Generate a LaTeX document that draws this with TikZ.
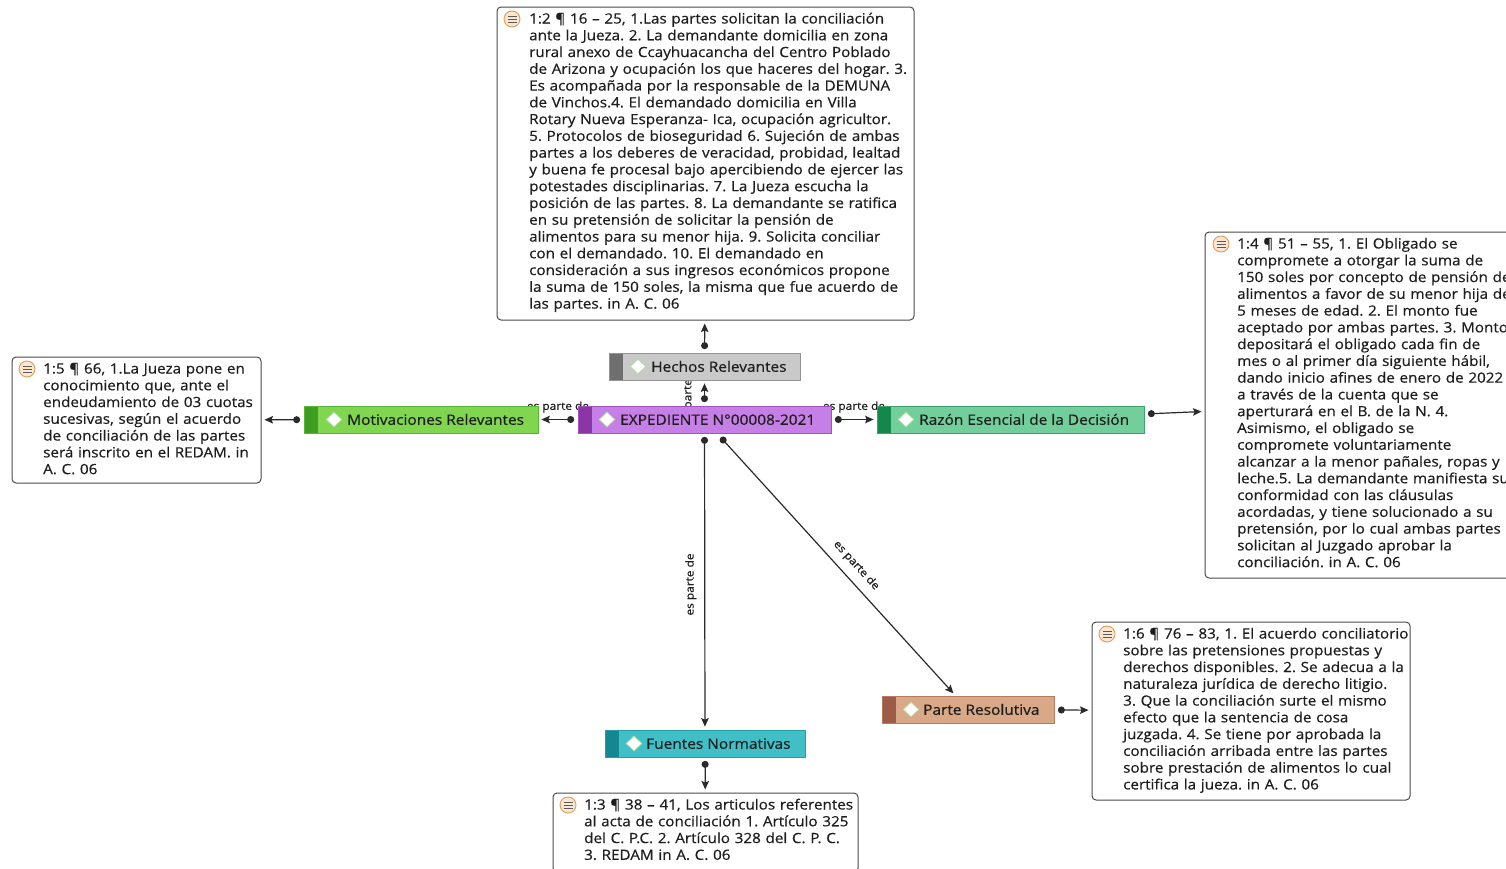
\documentclass[tikz,border=0pt]{standalone}
\usepackage{fontspec}
\setmainfont{Open Sans}[FakeStretch=1.08,FakeBold=0.5]
\usetikzlibrary{arrows.meta,shapes.geometric,backgrounds}
\frenchspacing
\definecolor{ink}{HTML}{1E1E1E}
\definecolor{lnk}{HTML}{2A2A2A}
\definecolor{qedge}{HTML}{4A4A4A}
\definecolor{icedge}{HTML}{E59A58}
\definecolor{icfill}{HTML}{FCE7D2}
\definecolor{icline}{HTML}{5A5A5A}
\definecolor{diaedge}{HTML}{B5DDA5}
\definecolor{hechF}{HTML}{C9C9C9}\definecolor{hechD}{HTML}{6F6F6F}
\definecolor{expeF}{HTML}{C57FE6}\definecolor{expeD}{HTML}{8C35A6}
\definecolor{motiF}{HTML}{80D64E}\definecolor{motiD}{HTML}{3E9E22}
\definecolor{razoF}{HTML}{72CF9C}\definecolor{razoD}{HTML}{14874B}
\definecolor{partF}{HTML}{D9A886}\definecolor{partD}{HTML}{9E5B47}
\definecolor{fuenF}{HTML}{41BFC7}\definecolor{fuenD}{HTML}{138890}
\tikzset{
  codebox/.style 2 args={draw=#2!60!#1, line width=0.7pt, fill=#1, minimum height=27pt, inner sep=0pt,
    path picture={\fill[#2] (path picture bounding box.north west) rectangle ([xshift=14pt]path picture bounding box.south west);}},
  lbl/.style={font=\fontsize{14.3}{16}\selectfont, text=ink, inner sep=0pt, anchor=base west},
  dia/.style={diamond, draw=diaedge, fill=white, line width=0.9pt, minimum width=16pt, minimum height=15pt, inner sep=0pt},
  qbox/.style={draw=qedge, line width=1pt, rounded corners=4pt, fill=white, inner sep=0pt},
  qtext/.style={font=\fontsize{14.1}{16.77}\selectfont, text=ink, inner sep=0pt, anchor=base west, text width=520pt, align=left},
  qicon/.style={circle, draw=icedge, fill=icfill, line width=0.9pt, minimum size=16pt, inner sep=0pt,
    path picture={\foreach \dy in {-3,0,3} \draw[icline, line width=0.8pt] ([xshift=-4.5pt, yshift=\dy pt]path picture bounding box.center) -- ++(9pt,0pt);}},
  conn/.style={draw=lnk, line width=1.2pt, arrows={Circle[length=7pt]-Stealth[length=8.5pt,width=7.5pt,inset=1.5pt]}, shorten <=3.5pt, shorten >=3pt},
  elbl/.style={font=\fontsize{11}{12}\selectfont, text=ink, inner sep=1pt}
}
\begin{document}
\begin{tikzpicture}[x=1pt,y=-1pt]
\useasboundingbox (0,0) rectangle (1506,868);
\clip (0,0) rectangle (1506,868);

% quotation boxes
\node[qbox, minimum width=417pt, minimum height=313pt] (q2) at (705.5,163.5) {};
\node[qbox, minimum width=249pt, minimum height=126pt] (q5) at (136.5,420) {};
\node[qbox, minimum width=311pt, minimum height=346pt] (q4) at (1360.5,405) {};
\node[qbox, minimum width=318pt, minimum height=178pt] (q6) at (1251,711) {};
\node[qbox, minimum width=305pt, minimum height=79pt] (q3) at (705.5,832.5) {};

\node[qicon] (q2i) at (512,19) {};
\node[qicon] (q5i) at (27,369) {};
\node[qicon] (q4i) at (1221,244) {};
\node[qicon] (q6i) at (1107,634) {};
\node[qicon] (q3i) at (568,805) {};

\node[qtext] (q2t) at (529,23.5) {1:2 ¶ 16 – 25, 1.Las partes solicitan la conciliación\\
ante la Jueza. 2. La demandante domicilia en  zona\\
rural anexo de Ccayhuacancha del Centro Poblado\\
de Arizona y ocupación los que haceres del hogar. 3.\\
Es acompañada por la responsable de la DEMUNA\\
de Vinchos.4. El demandado domicilia en Villa\\
Rotary Nueva Esperanza- Ica, ocupación agricultor.\\
5. Protocolos de bioseguridad 6. Sujeción de ambas\\
partes a los deberes de veracidad, probidad, lealtad\\
y buena fe procesal bajo apercibiendo de ejercer las\\
potestades disciplinarias. 7. La Jueza escucha la\\
posición de las partes. 8. La demandante se ratifica\\
en su pretensión de solicitar la pensión de\\
alimentos para su menor hija.  9. Solicita conciliar\\
con el demandado. 10. El demandado en\\
consideración a sus ingresos económicos propone\\
la suma de 150 soles, la misma que fue acuerdo de\\
las partes. in A. C. 06};

\node[qtext] (q5t) at (43,373.5) {1:5 ¶ 66, 1.La Jueza pone en\\
conocimiento que, ante el\\
endeudamiento de 03 cuotas\\
sucesivas, según el acuerdo\\
de conciliación de las partes\\
será inscrito en el REDAM. in\\
A. C. 06};

\node[qtext] (q4t) at (1237,248.5) {1:4 ¶ 51 – 55, 1. El Obligado se\\
compromete a otorgar la suma de\\
150 soles por concepto de pensión de\\
alimentos a favor de su menor hija de\\
5 meses de edad.  2. El monto fue\\
aceptado por ambas partes. 3. Monto\\
depositará el obligado cada fin de\\
mes o al primer día siguiente hábil,\\
dando inicio afines de enero de 2022\\
a través de la cuenta que se\\
aperturará en el B. de la N. 4.\\
Asimismo, el obligado se\\
compromete voluntariamente\\
alcanzar a la menor pañales, ropas y\\
leche.5. La demandante manifiesta su\\
conformidad con las cláusulas\\
acordadas, y tiene solucionado a su\\
pretensión, por lo cual ambas partes\\
solicitan al Juzgado aprobar la\\
conciliación. in A. C. 06};

\node[qtext] (q6t) at (1123,638.5) {1:6 ¶ 76 – 83, 1. El acuerdo conciliatorio\\
sobre las pretensiones propuestas y\\
derechos disponibles. 2. Se adecua a la\\
naturaleza jurídica de derecho litigio.\\
3. Que la conciliación surte el mismo\\
efecto que la sentencia de cosa\\
juzgada. 4. Se tiene por aprobada la\\
conciliación arribada entre las partes\\
sobre prestación de alimentos lo cual\\
certifica la jueza. in A. C. 06};

\node[qtext] (q3t) at (584,809.5) {1:3 ¶ 38 – 41, Los articulos referentes\\
al acta de conciliación 1. Artículo 325\\
del C. P.C. 2. Artículo 328 del C. P. C.\\
3. REDAM in A. C. 06};

% code nodes
\node[codebox={hechF}{hechD}, minimum width=191pt] (hech) at (704.5,366.5) {};
\node[codebox={expeF}{expeD}, minimum width=253pt] (expe) at (704.5,419.5) {};
\node[codebox={motiF}{motiD}, minimum width=234pt] (moti) at (421,419.5) {};
\node[codebox={razoF}{razoD}, minimum width=267pt] (razo) at (1010.5,419.5) {};
\node[codebox={partF}{partD}, minimum width=172pt] (part) at (968,709.5) {};
\node[codebox={fuenF}{fuenD}, minimum width=200pt] (fuen) at (705,743.5) {};

\node[dia] (hechd) at (638,366.5) {};
\node[dia] (exped) at (607,419.5) {};
\node[dia] (motid) at (334,419.5) {};
\node[dia] (razod) at (906,419.5) {};
\node[dia] (partd) at (911,709.5) {};
\node[dia] (fuend) at (634,743.5) {};

\node[lbl] (hecht) at (651,371.8) {Hechos Relevantes};
\node[lbl] (expet) at (620,424.8) {EXPEDIENTE N°00008-2021};
\node[lbl] (motit) at (347,424.8) {Motivaciones Relevantes};
\node[lbl] (razot) at (919,424.8) {Razón Esencial de la Decisión};
\node[lbl] (partt) at (923,714.8) {Parte Resolutiva};
\node[lbl] (fuent) at (646,748.8) {Fuentes Normativas};

\begin{pgfonlayer}{background}
\fill[white] (0,0) rectangle (1506,868);
\draw[conn] (hech) -- (q2);
\draw[conn] (expe) -- (hech) node[elbl, midway, xshift=-16pt, rotate=90] (l1) {es parte de};
\draw[conn] (expe) -- (moti) node[elbl, midway, yshift=12.5pt] (l2) {es parte de};
\draw[conn] (expe) -- (razo) node[elbl, midway, yshift=12.5pt] (l3) {es parte de};
\draw[conn] (expe) -- (fuen) node[elbl, pos=0.51, xshift=-14pt, rotate=90] (l4) {es parte de};
\draw[conn, shorten <=5.5pt] (expe) -- (part) node[elbl, pos=0.54, sloped, above=7pt] (l5) {es parte de};
\draw[conn] (moti) -- (q5);
\draw[conn] (razo) -- (q4);
\draw[conn] (part) -- (q6);
\draw[conn] (fuen) -- (q3);
\end{pgfonlayer}
\end{tikzpicture}
\end{document}
